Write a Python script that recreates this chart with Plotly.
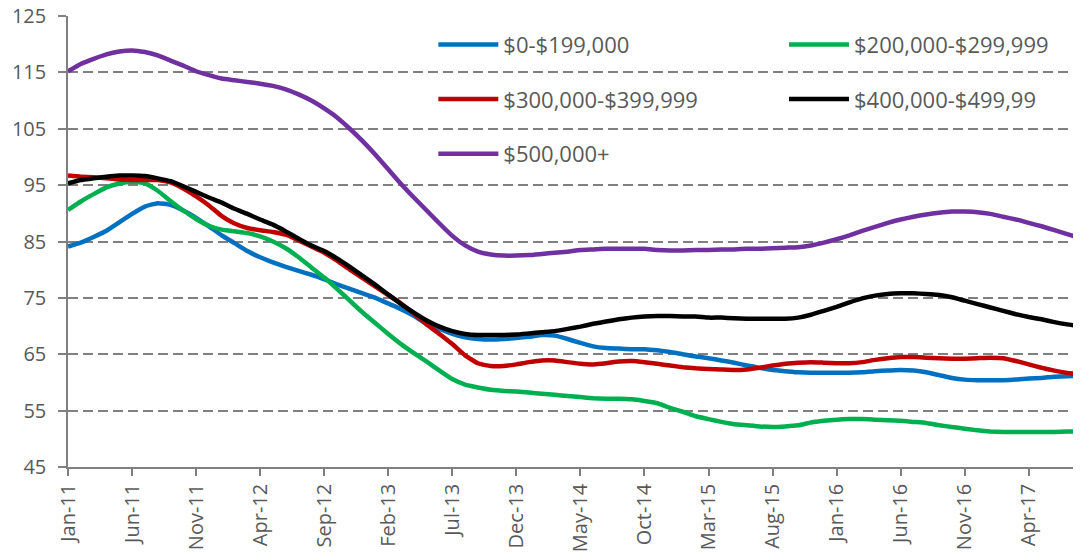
import pandas as pd
import plotly.graph_objects as go

months = pd.date_range("2011-01-01", periods=80, freq="MS").strftime("%b-%y").tolist()
tick_labels = months[::5]

band_0_199 = [
    84.1, 84.8, 85.8, 86.9, 88.4, 89.9, 91.2, 91.8, 91.5, 90.5,
    89.2, 87.7, 86.1, 84.7, 83.3, 82.2, 81.3, 80.5, 79.8, 79.1,
    78.3, 77.4, 76.6, 75.8, 75.0, 74.0, 73.0, 71.8, 70.4, 69.5,
    68.6, 68.0, 67.7, 67.6, 67.7, 67.9, 68.1, 68.4, 68.3, 67.7,
    67.0, 66.4, 66.1, 66.0, 65.9, 65.9, 65.7, 65.4, 65.0, 64.6,
    64.3, 63.9, 63.5, 63.0, 62.6, 62.2, 62.0, 61.8, 61.7, 61.7,
    61.7, 61.7, 61.8, 62.0, 62.1, 62.2, 62.1, 61.8, 61.3, 60.8,
    60.5, 60.4, 60.4, 60.4, 60.5, 60.7, 60.8, 61.0, 61.1, 61.2,
]
band_200_299 = [
    90.6, 92.1, 93.4, 94.6, 95.3, 95.6, 95.3, 94.0, 92.2, 90.5,
    89.0, 87.8, 87.1, 86.8, 86.5, 85.9, 85.0, 83.8, 82.2, 80.4,
    78.6, 76.6, 74.5, 72.4, 70.5, 68.6, 66.8, 65.2, 63.7, 62.1,
    60.6, 59.6, 59.1, 58.7, 58.5, 58.4, 58.2, 58.0, 57.8, 57.6,
    57.4, 57.2, 57.1, 57.1, 57.0, 56.7, 56.3, 55.5, 54.8, 54.0,
    53.5, 53.0, 52.6, 52.4, 52.2, 52.1, 52.2, 52.4, 52.9, 53.2,
    53.4, 53.5, 53.5, 53.4, 53.3, 53.2, 53.0, 52.8, 52.4, 52.1,
    51.8, 51.5, 51.3, 51.2, 51.2, 51.2, 51.2, 51.2, 51.3, 51.3,
]
band_300_399 = [
    96.7, 96.5, 96.4, 96.2, 96.0, 95.9, 95.9, 95.9, 95.5, 94.4,
    93.0, 91.4, 89.5, 88.2, 87.4, 87.0, 86.7, 86.2, 85.2, 84.1,
    83.0, 81.6, 80.0, 78.5, 77.0, 75.5, 74.0, 72.2, 70.3, 68.6,
    66.8, 64.8, 63.4, 62.9, 62.9, 63.2, 63.6, 63.9, 63.9, 63.6,
    63.3, 63.2, 63.4, 63.7, 63.8, 63.6, 63.3, 63.0, 62.7, 62.5,
    62.4, 62.3, 62.2, 62.3, 62.6, 63.0, 63.3, 63.5, 63.6, 63.5,
    63.4, 63.4, 63.6, 64.0, 64.3, 64.5, 64.5, 64.4, 64.3, 64.2,
    64.2, 64.3, 64.4, 64.3, 63.8, 63.2, 62.6, 62.1, 61.7, 61.4,
]
band_400_499 = [
    95.3, 95.9, 96.2, 96.5, 96.7, 96.7, 96.6, 96.2, 95.7, 94.8,
    93.8, 92.8, 91.9, 90.8, 89.9, 88.9, 88.0, 86.8, 85.5, 84.3,
    83.3, 82.0, 80.5, 78.9, 77.3, 75.6, 73.9, 72.4, 71.0, 69.9,
    69.1, 68.6, 68.4, 68.4, 68.4, 68.5, 68.7, 68.9, 69.1, 69.5,
    69.9, 70.4, 70.8, 71.2, 71.5, 71.7, 71.8, 71.8, 71.7, 71.7,
    71.5, 71.5, 71.4, 71.3, 71.3, 71.3, 71.3, 71.5, 72.0, 72.7,
    73.4, 74.2, 74.9, 75.4, 75.7, 75.8, 75.8, 75.7, 75.5, 75.1,
    74.5, 73.9, 73.3, 72.7, 72.1, 71.6, 71.2, 70.7, 70.3, 70.0,
]
band_500_plus = [
    115.2, 116.5, 117.4, 118.2, 118.7, 118.9, 118.6, 118.0, 117.1, 116.2,
    115.2, 114.5, 113.9, 113.6, 113.3, 113.0, 112.6, 112.0, 111.1, 110.0,
    108.6, 107.0, 105.0, 102.8, 100.4, 97.8, 95.2, 92.8, 90.5, 88.2,
    86.0, 84.3, 83.2, 82.7, 82.5, 82.5, 82.6, 82.8, 83.0, 83.2,
    83.5, 83.6, 83.7, 83.7, 83.7, 83.7, 83.5, 83.4, 83.4, 83.5,
    83.5, 83.6, 83.6, 83.7, 83.7, 83.8, 83.9, 84.0, 84.3, 84.8,
    85.4, 86.1, 86.9, 87.6, 88.3, 88.9, 89.4, 89.8, 90.1, 90.3,
    90.3, 90.2, 89.9, 89.4, 88.9, 88.3, 87.7, 87.0, 86.3, 85.6,
]

series = [
    ("$0-$199,000", band_0_199, "#0070C0", "legend"),
    ("$200,000-$299,999", band_200_299, "#00B050", "legend2"),
    ("$300,000-$399,999", band_300_399, "#C00000", "legend"),
    ("$400,000-$499,99", band_400_499, "#000000", "legend2"),
    ("$500,000+", band_500_plus, "#7030A0", "legend"),
]

text_color = "#595959"
axis_color = "#808080"
font_family = "Open Sans"
font_size = 22
tick_size = 20

fig = go.Figure()
for name, values, color, leg in series:
    fig.add_trace(go.Scatter(
        x=months,
        y=values,
        name=name,
        mode="lines",
        line=dict(color=color, width=4.5, shape="spline", smoothing=0.4),
        legend=leg,
        legendgroup=name,
    ))

legend_style = dict(
    orientation="v",
    yanchor="top",
    xanchor="left",
    bgcolor="rgba(0,0,0,0)",
    font=dict(family=font_family, size=font_size, color=text_color),
    tracegroupgap=23,
    itemwidth=60,
    traceorder="grouped",
)

# the page body adds an 8px offset, so the figure is sized to fit the window
fig.update_layout(
    width=1073,
    height=544,
    margin=dict(l=60, r=1, t=8, b=85),
    plot_bgcolor="white",
    paper_bgcolor="white",
    font=dict(family=font_family, size=font_size, color=text_color),
    showlegend=True,
    legend=dict(x=0.361, y=0.983, **legend_style),
    legend2=dict(x=0.7075, y=0.983, **legend_style),
    xaxis=dict(
        type="category",
        range=[0, 79],
        tickmode="array",
        tickvals=tick_labels,
        ticktext=tick_labels,
        tickangle=-90,
        ticks="outside",
        ticklen=7,
        tickwidth=1.5,
        tickcolor=axis_color,
        showline=True,
        linecolor=axis_color,
        linewidth=1.5,
        showgrid=False,
        zeroline=False,
        automargin=False,
        ticklabeloverflow="allow",
        tickfont=dict(family=font_family, size=tick_size, color=text_color),
    ),
    yaxis=dict(
        range=[45, 125],
        tick0=45,
        dtick=10,
        ticks="outside",
        ticklen=8,
        tickwidth=1.5,
        tickcolor=axis_color,
        showline=True,
        linecolor=axis_color,
        linewidth=1.5,
        showgrid=True,
        gridcolor=axis_color,
        gridwidth=2,
        griddash="10px,5px",
        zeroline=False,
        automargin=False,
        ticklabeloverflow="allow",
        ticklabelstandoff=8,
        tickfont=dict(family=font_family, size=tick_size, color=text_color),
    ),
)

fig.write_html("out.html")
